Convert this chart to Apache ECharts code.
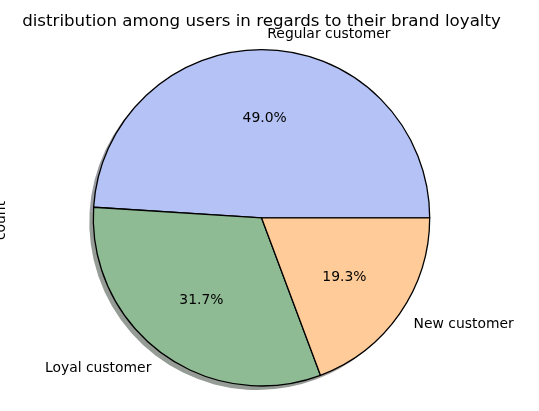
<!DOCTYPE html>
<html>
<head>
<meta charset="utf-8">
<script src="https://cdn.jsdelivr.net/npm/echarts@6/dist/echarts.min.js"></script>
<style>
html,body{margin:0;padding:0;background:#fff;}
#chart{width:539px;height:411px;}
</style>
</head>
<body>
<div id="chart"></div>
<script>
const categories = ['Regular customer', 'Loyal customer', 'New customer'];
const percentages = [49.0, 31.7, 19.3];
const sliceColors = ['#b5c2f5', '#8fbb94', '#ffcc99'];
const titleText = 'distribution among users in regards to their brand loyalty';
const yLabelText = 'count';

const CX = 261.5, CY = 217.8, R = 168.2;
const FONT = 'DejaVu Sans';
const LABEL_DY = 1.6;

function darken(hex, f) {
  const n = parseInt(hex.slice(1), 16);
  const r = Math.round(((n >> 16) & 255) * f);
  const g = Math.round(((n >> 8) & 255) * f);
  const b = Math.round((n & 255) * f);
  return 'rgba(' + r + ',' + g + ',' + b + ',0.5)';
}

const total = percentages.reduce((a, b) => a + b, 0);
function midAngle(idx) {
  let cum = 0;
  for (let i = 0; i < idx; i++) cum += percentages[i];
  return (cum + percentages[idx] / 2) / total * Math.PI * 2;
}
function placeAt(k, sideAlign) {
  return function (p) {
    const a = midAngle(p.dataIndex);
    const x = CX + k * R * Math.cos(a);
    const y = CY - k * R * Math.sin(a) + LABEL_DY;
    const align = sideAlign ? (Math.cos(a) >= 0 ? 'left' : 'right') : 'center';
    return { x: x, y: y, align: align, verticalAlign: 'middle' };
  };
}

const baseSeries = {
  type: 'pie',
  startAngle: 0,
  clockwise: false,
  avoidLabelOverlap: false,
  percentPrecision: 1,
  silent: true,
  animation: false,
  emphasis: { disabled: true },
  labelLine: { show: false }
};

const chart = echarts.init(document.getElementById('chart'), null, { renderer: 'canvas' });
chart.setOption({
  backgroundColor: '#ffffff',
  animation: false,
  graphic: [
    {
      type: 'text', x: CX, y: 21.5, z: 100,
      style: { text: titleText, font: '16.67px "' + FONT + '"', fill: '#000', textAlign: 'center', textVerticalAlign: 'middle' }
    },
    {
      type: 'text', x: 1, y: 220.5, rotation: Math.PI / 2, z: 100,
      style: { text: yLabelText, font: '13.9px "' + FONT + '"', fill: '#000', textAlign: 'center', textVerticalAlign: 'middle' }
    }
  ],
  series: [
    Object.assign({}, baseSeries, {
      name: 'shadow',
      center: [CX - 4, CY + 4],
      radius: R,
      z: 1,
      label: { show: false },
      data: categories.map((c, i) => ({ name: c, value: percentages[i], itemStyle: { color: darken(sliceColors[i], 0.3), borderWidth: 0 } }))
    }),
    Object.assign({}, baseSeries, {
      name: 'pie',
      center: [CX, CY],
      radius: R,
      z: 2,
      label: { show: false },
      itemStyle: { borderColor: '#000', borderWidth: 1.3 },
      data: categories.map((c, i) => ({ name: c, value: percentages[i], itemStyle: { color: sliceColors[i] } }))
    }),
    Object.assign({}, baseSeries, {
      name: 'pct',
      center: [CX, CY],
      radius: R,
      z: 3,
      itemStyle: { color: 'rgba(0,0,0,0)', borderWidth: 0 },
      label: {
        show: true, position: 'inside', color: '#000', fontFamily: FONT, fontSize: 13.9,
        formatter: function (p) { return (p.value / total * 100).toFixed(1) + '%'; }
      },
      labelLayout: placeAt(0.6, false),
      data: categories.map((c, i) => ({ name: c, value: percentages[i] }))
    }),
    Object.assign({}, baseSeries, {
      name: 'names',
      center: [CX, CY],
      radius: R,
      z: 3,
      itemStyle: { color: 'rgba(0,0,0,0)', borderWidth: 0 },
      label: { show: true, position: 'inside', formatter: '{b}', color: '#000', fontFamily: FONT, fontSize: 13.9 },
      labelLayout: placeAt(1.1, true),
      data: categories.map((c, i) => ({ name: c, value: percentages[i] }))
    })
  ]
});
</script>
</body>
</html>
